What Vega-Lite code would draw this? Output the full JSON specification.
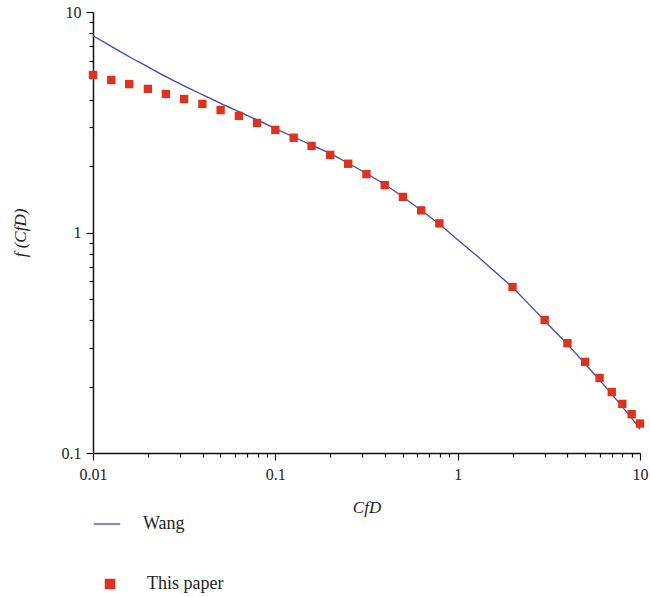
{
  "$schema": "https://vega.github.io/schema/vega-lite/v6.json",
  "autosize": "none",
  "width": 547,
  "height": 441,
  "padding": {"left": 93, "top": 12, "right": 10, "bottom": 144},
  "background": "white",
  "config": {
    "view": {"stroke": null},
    "font": "Liberation Serif",
    "axis": {"labelFont": "Liberation Serif", "titleFont": "Liberation Serif", "labelFontSize": 16, "titleFontSize": 17, "labelColor": "#222", "titleColor": "#222", "domainColor": "#111", "domainWidth": 1.5, "tickColor": "#111", "tickWidth": 1.2, "grid": false, "titleFontWeight": "normal"},
    "legend": {"labelFont": "Liberation Serif", "labelFontSize": 18, "labelColor": "#222"}
  },
  "datasets": {
    "wang": [
      {"x": 0.01, "y": 7.8, "s": "Wang"},
      {"x": 0.0126, "y": 6.98, "s": "Wang"},
      {"x": 0.0158, "y": 6.27, "s": "Wang"},
      {"x": 0.02, "y": 5.64, "s": "Wang"},
      {"x": 0.0251, "y": 5.09, "s": "Wang"},
      {"x": 0.0316, "y": 4.62, "s": "Wang"},
      {"x": 0.0398, "y": 4.22, "s": "Wang"},
      {"x": 0.0501, "y": 3.85, "s": "Wang"},
      {"x": 0.0631, "y": 3.53, "s": "Wang"},
      {"x": 0.0794, "y": 3.24, "s": "Wang"},
      {"x": 0.1, "y": 2.96, "s": "Wang"},
      {"x": 0.126, "y": 2.71, "s": "Wang"},
      {"x": 0.158, "y": 2.49, "s": "Wang"},
      {"x": 0.2, "y": 2.28, "s": "Wang"},
      {"x": 0.251, "y": 2.06, "s": "Wang"},
      {"x": 0.316, "y": 1.85, "s": "Wang"},
      {"x": 0.398, "y": 1.65, "s": "Wang"},
      {"x": 0.501, "y": 1.45, "s": "Wang"},
      {"x": 0.631, "y": 1.26, "s": "Wang"},
      {"x": 0.794, "y": 1.09, "s": "Wang"},
      {"x": 1, "y": 0.928, "s": "Wang"},
      {"x": 1.26, "y": 0.79, "s": "Wang"},
      {"x": 1.58, "y": 0.67, "s": "Wang"},
      {"x": 2, "y": 0.563, "s": "Wang"},
      {"x": 2.5, "y": 0.466, "s": "Wang"},
      {"x": 3, "y": 0.398, "s": "Wang"},
      {"x": 4, "y": 0.311, "s": "Wang"},
      {"x": 5, "y": 0.254, "s": "Wang"},
      {"x": 6, "y": 0.214, "s": "Wang"},
      {"x": 7, "y": 0.185, "s": "Wang"},
      {"x": 8, "y": 0.162, "s": "Wang"},
      {"x": 9, "y": 0.144, "s": "Wang"},
      {"x": 10, "y": 0.128, "s": "Wang"}
    ],
    "paper": [
      {"x": 0.01, "y": 5.18, "s": "This paper"},
      {"x": 0.0126, "y": 4.92, "s": "This paper"},
      {"x": 0.0158, "y": 4.71, "s": "This paper"},
      {"x": 0.02, "y": 4.48, "s": "This paper"},
      {"x": 0.0251, "y": 4.25, "s": "This paper"},
      {"x": 0.0316, "y": 4.03, "s": "This paper"},
      {"x": 0.0398, "y": 3.83, "s": "This paper"},
      {"x": 0.0501, "y": 3.59, "s": "This paper"},
      {"x": 0.0631, "y": 3.38, "s": "This paper"},
      {"x": 0.0794, "y": 3.14, "s": "This paper"},
      {"x": 0.1, "y": 2.92, "s": "This paper"},
      {"x": 0.126, "y": 2.69, "s": "This paper"},
      {"x": 0.158, "y": 2.47, "s": "This paper"},
      {"x": 0.2, "y": 2.25, "s": "This paper"},
      {"x": 0.251, "y": 2.05, "s": "This paper"},
      {"x": 0.316, "y": 1.84, "s": "This paper"},
      {"x": 0.398, "y": 1.64, "s": "This paper"},
      {"x": 0.501, "y": 1.45, "s": "This paper"},
      {"x": 0.631, "y": 1.26, "s": "This paper"},
      {"x": 0.794, "y": 1.1, "s": "This paper"},
      {"x": 2, "y": 0.566, "s": "This paper"},
      {"x": 3, "y": 0.401, "s": "This paper"},
      {"x": 4, "y": 0.315, "s": "This paper"},
      {"x": 5, "y": 0.259, "s": "This paper"},
      {"x": 6, "y": 0.219, "s": "This paper"},
      {"x": 7, "y": 0.189, "s": "This paper"},
      {"x": 8, "y": 0.167, "s": "This paper"},
      {"x": 9, "y": 0.15, "s": "This paper"},
      {"x": 10, "y": 0.136, "s": "This paper"}
    ]
  },
  "encoding": {
    "x": {
      "field": "x", "type": "quantitative",
      "scale": {"type": "log", "domain": [0.01, 10], "nice": false},
      "axis": {
        "title": "CfD", "titleFontStyle": "italic", "titlePadding": 17,
        "labelFont": "Liberation Serif", "titleFont": "Liberation Serif",
        "values": [0.01,0.02,0.03,0.04,0.05,0.06,0.07,0.08,0.09,0.1,0.2,0.3,0.4,0.5,0.6,0.7,0.8,0.9,1,2,3,4,5,6,7,8,9,10],
        "labelExpr": "abs(log(datum.value)/LN10 - round(log(datum.value)/LN10)) < 1e-6 ? format(datum.value, '~g') : ''",
        "tickSize": {"condition": {"test": "abs(log(datum.value)/LN10 - round(log(datum.value)/LN10)) < 1e-6", "value": 7}, "value": 4},
        "labelPadding": 6, "labelFlush": false, "labelOverlap": false
      }
    },
    "y": {
      "field": "y", "type": "quantitative",
      "scale": {"type": "log", "domain": [0.1, 10], "nice": false},
      "axis": {
        "title": "f (CfD)", "titleFontStyle": "italic", "titlePadding": 32,
        "labelFont": "Liberation Serif", "titleFont": "Liberation Serif",
        "values": [0.1,0.2,0.3,0.4,0.5,0.6,0.7,0.8,0.9,1,2,3,4,5,6,7,8,9,10],
        "labelExpr": "abs(log(datum.value)/LN10 - round(log(datum.value)/LN10)) < 1e-6 ? format(datum.value, '~g') : ''",
        "tickSize": {"condition": {"test": "abs(log(datum.value)/LN10 - round(log(datum.value)/LN10)) < 1e-6", "value": 7}, "value": 4},
        "labelPadding": 5, "labelFlush": false, "labelOverlap": false
      }
    }
  },
  "layer": [
    {
      "data": {"name": "wang"},
      "mark": {"type": "line", "strokeWidth": 1.3, "interpolate": "monotone"},
      "encoding": {
        "color": {
          "field": "s", "type": "nominal",
          "scale": {"domain": ["Wang"], "range": ["#3f4bb3"]},
          "legend": {"title": null, "orient": "none", "legendX": 0, "legendY": 498, "symbolType": "stroke", "symbolSize": 700, "symbolStrokeWidth": 1.3, "labelOffset": 22, "labelFont": "Liberation Serif"}
        }
      }
    },
    {
      "data": {"name": "paper"},
      "mark": {"type": "point", "shape": "square", "filled": true, "size": 70, "opacity": 1},
      "encoding": {
        "fill": {
          "field": "s", "type": "nominal",
          "scale": {"domain": ["This paper"], "range": ["#e0301e"]},
          "legend": {"title": null, "orient": "none", "legendX": 8, "legendY": 563, "symbolType": "square", "symbolSize": 110, "labelOffset": 28, "labelFont": "Liberation Serif"}
        }
      }
    }
  ],
  "resolve": {"scale": {"color": "independent", "fill": "independent"}}
}
